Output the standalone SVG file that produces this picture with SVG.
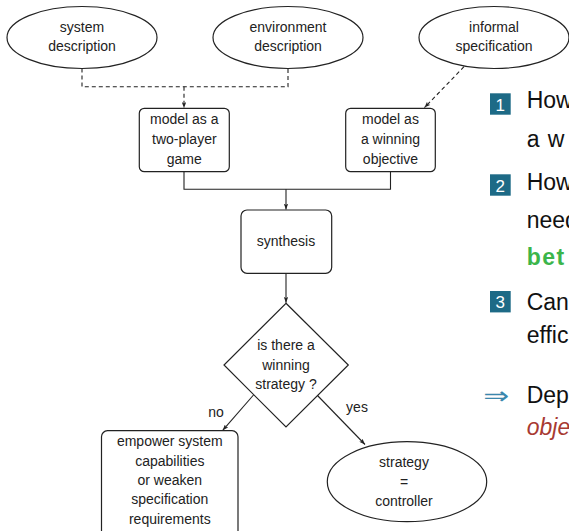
<svg xmlns="http://www.w3.org/2000/svg" width="569" height="531" viewBox="0 0 569 531">
<defs>
<style>
.n{fill:#fff;stroke:#222;stroke-width:1.2}
.t{font-family:"Liberation Sans",Arial,sans-serif;font-size:14px;fill:#222;text-anchor:middle}
.c{fill:none;stroke:#222;stroke-width:1.1}
.d{stroke-dasharray:4 3}
.b{font-family:"Liberation Sans",Arial,sans-serif;font-size:23px;fill:#111}
.badge{fill:#1d6a86}
.bn{font-family:"Liberation Sans",Arial,sans-serif;font-size:17px;fill:#fff;text-anchor:middle}
</style>
<marker id="ah" viewBox="0 0 8 6" refX="8" refY="3" markerWidth="6" markerHeight="4.5" orient="auto" markerUnits="userSpaceOnUse">
<path d="M0,0 L8,3 L0,6 L2,3 Z" fill="#222"/>
</marker>
</defs>
<rect width="569" height="531" fill="#fff"/>

<g id="connectors">
<path class="c d" d="M82,68.5 V86.7 H288 V68.5"/>
<path class="c d" d="M184,86.7 V108" marker-end="url(#ah)"/>
<path class="c d" d="M464,66.7 L424.5,107.6" marker-end="url(#ah)"/>
<path class="c" d="M184,171.7 V189.3 H390.5 V171.7"/>
<path class="c" d="M286,189.3 V209.6" marker-end="url(#ah)"/>
<path class="c" d="M286,273.3 V302.8" marker-end="url(#ah)"/>
<path class="c" d="M253.5,395 L222.7,430.3" marker-end="url(#ah)"/>
<path class="c" d="M317.5,395.5 L365,444.5" marker-end="url(#ah)"/>
<text class="t" x="216" y="417">no</text>
<text class="t" x="357" y="412">yes</text>
</g>

<g id="system">
<ellipse class="n" cx="82" cy="37.5" rx="75" ry="31"/>
<text class="t" x="82" y="31.5">system</text>
<text class="t" x="82" y="51">description</text>
</g>
<g id="environment">
<ellipse class="n" cx="288" cy="37.5" rx="75" ry="31"/>
<text class="t" x="288" y="31.5">environment</text>
<text class="t" x="288" y="51">description</text>
</g>
<g id="informal">
<ellipse class="n" cx="494" cy="37.5" rx="75" ry="31"/>
<text class="t" x="494" y="31.5">informal</text>
<text class="t" x="494" y="51">specification</text>
</g>
<g id="game">
<rect class="n" x="139.3" y="108.3" width="90" height="63.4" rx="5"/>
<text class="t" x="184.3" y="124">model as a</text>
<text class="t" x="184.3" y="144">two-player</text>
<text class="t" x="184.3" y="163.5">game</text>
</g>
<g id="objective">
<rect class="n" x="345.7" y="108.3" width="89.6" height="63.4" rx="5"/>
<text class="t" x="390.5" y="124">model as</text>
<text class="t" x="390.5" y="144">a winning</text>
<text class="t" x="390.5" y="163.5">objective</text>
</g>
<g id="synthesis">
<rect class="n" x="241" y="210" width="90.7" height="63.3" rx="6"/>
<text class="t" x="286" y="246">synthesis</text>
</g>
<g id="decision">
<polygon class="n" points="286,303.3 348.3,365 286,427 224,365"/>
<text class="t" x="286" y="350">is there a</text>
<text class="t" x="286" y="369.5">winning</text>
<text class="t" x="286" y="389">strategy ?</text>
</g>
<g id="empower">
<rect class="n" x="101.5" y="430.7" width="136.5" height="106" rx="6"/>
<text class="t" x="169.8" y="446">empower system</text>
<text class="t" x="169.8" y="465.5">capabilities</text>
<text class="t" x="169.8" y="485">or weaken</text>
<text class="t" x="169.8" y="504.3">specification</text>
<text class="t" x="169.8" y="523.5">requirements</text>
</g>
<g id="controller">
<ellipse class="n" cx="407" cy="481.7" rx="79.7" ry="40"/>
<text class="t" x="404" y="467">strategy</text>
<text class="t" x="404" y="486.5">=</text>
<text class="t" x="404" y="505.5">controller</text>
</g>

<g id="sidetext">
<rect class="badge" x="490" y="93.3" width="20.7" height="21.4"/>
<text class="bn" x="500.3" y="110.5">1</text>
<text class="b" x="526.7" y="108.3">How</text>
<text class="b" x="526.7" y="146.7" style="word-spacing:2px">a w</text>
<rect class="badge" x="490" y="174.3" width="20.7" height="21.4"/>
<text class="bn" x="500.3" y="191.5">2</text>
<text class="b" x="526.7" y="190">How</text>
<text class="b" x="526.7" y="228.3">need</text>
<text class="b" x="526.7" y="265" style="fill:#3bb54a;font-weight:bold;letter-spacing:1.5px">bet</text>
<rect class="badge" x="490" y="291" width="20.7" height="21.4"/>
<text class="bn" x="500.3" y="308.2">3</text>
<text class="b" x="526.7" y="310">Can</text>
<text class="b" x="526.7" y="343.3">effic</text>
<text x="483.3" y="404" font-family="DejaVu Sans,sans-serif" font-size="24" fill="#3b87ad" textLength="26" lengthAdjust="spacingAndGlyphs">⇒</text>
<text class="b" x="526.7" y="403.3">Dep</text>
<text class="b" x="526.7" y="435" style="fill:#a83a32;font-style:italic">obje</text>
</g>
</svg>
